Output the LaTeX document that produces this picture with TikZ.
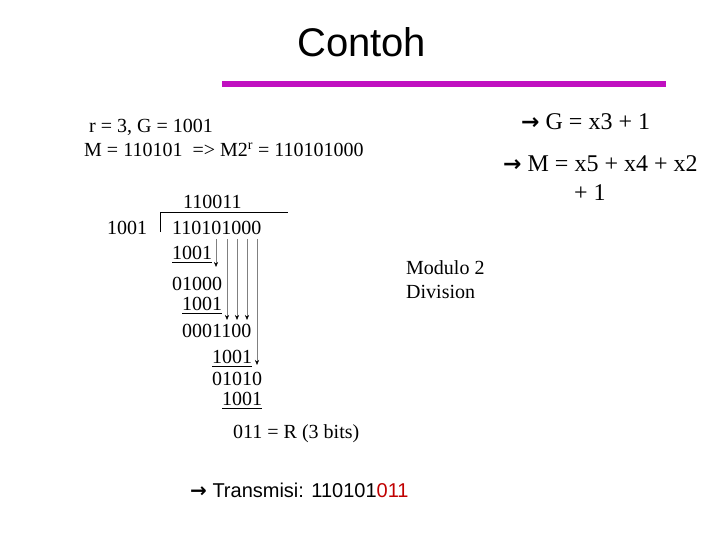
\documentclass[tikz,border=0pt]{standalone}
\usepackage{fontspec}
\setmainfont{Liberation Serif}
\newfontfamily\titlefont{Liberation Sans}
\newfontfamily\symfont{DejaVu Sans}
\usetikzlibrary{arrows.meta}
\definecolor{barmagenta}{RGB}{192,16,192}
\definecolor{bitred}{RGB}{192,0,0}
\newcommand{\bitline}[1]{\underline{#1\rule[-1.5pt]{0pt}{1.5pt}}}
\newcommand{\goesto}{{\symfont\bfseries →}}

\begin{document}
\begin{tikzpicture}[x=1pt, y=-1pt,
        text_style/.style={anchor=base west, inner sep=0pt, font=\fontsize{20}{24}\selectfont},
        big_text_style/.style={anchor=base west, inner sep=0pt, font=\fontsize{24}{28}\selectfont},
        sans_style/.style={anchor=base west, inner sep=0pt, font=\titlefont\fontsize{20}{24}\selectfont},
        title_style/.style={anchor=base west, inner sep=0pt, font=\titlefont\fontsize{40}{46}\selectfont},
        bring_style/.style={draw=black!50, thin, -{Stealth[length=5pt,width=4pt,color=black]}},
        bracket_style/.style={draw=black, thin}]

        \useasboundingbox (0,0) rectangle (720,540);

        % title and bar
        \node [title_style](title) at (297,57) {Contoh};
        \coordinate (barL) at (222,84);
        \coordinate (barR) at (666,84);
        \draw [barmagenta, line width=6pt] (barL) -- (barR);

        % given values
        \node [text_style](given) at (89,133) {r = 3, G = 1001};
        \node [text_style](shifted) at (84,157) {M = 110101\ \ => M2\textsuperscript{r} = 110101000};

        % the division
        \node [text_style](quot) at (183,209) {110011};
        \node [text_style](divisor) at (107,234) {1001};
        \node [text_style](dividend) at (172,234) {110101000};
        \coordinate (brTop) at (160,212);
        \coordinate (brBot) at (160,232);
        \coordinate (brEnd) at (288,212);
        \draw [bracket_style] (brBot) -- (brTop) -- (brEnd);

        \node [text_style](sub1) at (172,259) {\bitline{1001}};
        \node [text_style](rest1) at (172,290) {01000};
        \node [text_style](sub2) at (182,310) {\bitline{1001}};
        \node [text_style](rest2) at (182,337) {0001100};
        \node [text_style](sub3) at (212,363) {\bitline{1001}};
        \node [text_style](rest3) at (212,385) {01010};
        \node [text_style](sub4) at (222,405) {\bitline{1001}};
        \node [text_style](remainder) at (233,438) {011 = R (3 bits)};

        % bring-down arrows
        \coordinate (d5) at (216,239);
        \coordinate (d6) at (227,239);
        \coordinate (d7) at (237,239);
        \coordinate (d8) at (247,239);
        \coordinate (d9) at (257,239);
        \coordinate (e5) at (216,267);
        \coordinate (e6) at (227,320);
        \coordinate (e7) at (237,320);
        \coordinate (e8) at (247,320);
        \coordinate (e9) at (257,365);
        \foreach \k in {5,...,9}
            \draw [bring_style] (d\k) -- (e\k);

        \node [text_style](mod1) at (406,274) {Modulo 2};
        \node [text_style](mod2) at (406,298) {Division};

        % polynomials
        \node [big_text_style](polyG) at (521,130) {{\fontsize{22}{26}\selectfont\goesto} G = x3 + 1};
        \node [big_text_style](polyM) at (503,172) {{\fontsize{22}{26}\selectfont\goesto} M = x5 + x4 + x2};
        \node [big_text_style](polyM2) at (574,201) {+ 1};

        % result
        \node [sans_style](sent) at (190,497) {\goesto{} Transmisi: 110101\textcolor{bitred}{011}};

        \end{tikzpicture}
\end{document}
